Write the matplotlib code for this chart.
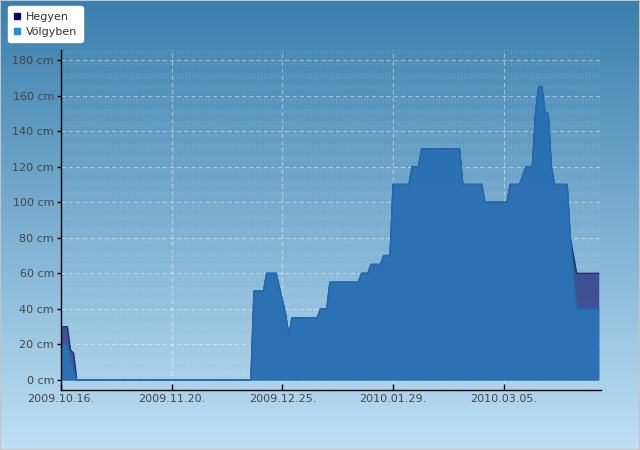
import matplotlib
matplotlib.use('Agg')
import matplotlib.pyplot as plt
import matplotlib.dates as mdates
from matplotlib.colors import LinearSegmentedColormap
from matplotlib.lines import Line2D
from matplotlib.patches import Rectangle
import numpy as np
import pandas as pd

plt.rcParams['lines.scale_dashes'] = False
plt.rcParams['font.family'] = 'DejaVu Sans'

# hóvastagság (cm), töréspontok
dates_volgy = ['2009-10-16', '2009-10-18', '2009-10-19', '2009-10-20', '2009-10-21',
               '2009-12-15', '2009-12-16', '2009-12-19', '2009-12-20', '2009-12-23',
               '2009-12-26', '2009-12-27', '2009-12-28', '2010-01-05', '2010-01-06',
               '2010-01-08', '2010-01-09', '2010-01-18', '2010-01-19', '2010-01-21',
               '2010-01-22', '2010-01-25', '2010-01-26', '2010-01-28', '2010-01-29',
               '2010-02-03', '2010-02-04', '2010-02-06', '2010-02-07', '2010-02-19',
               '2010-02-20', '2010-02-26', '2010-02-27', '2010-03-06', '2010-03-07',
               '2010-03-10', '2010-03-12', '2010-03-14', '2010-03-15', '2010-03-16',
               '2010-03-17', '2010-03-18', '2010-03-19', '2010-03-20', '2010-03-21',
               '2010-03-25', '2010-03-26', '2010-03-28', '2010-04-04']
volgyben = [20, 20, 12, 5, 0,
            0, 50, 50, 60, 60,
            37, 25, 35, 35, 40,
            40, 55, 55, 60, 60,
            65, 65, 70, 70, 110,
            110, 120, 120, 130, 130,
            110, 110, 100, 100, 110,
            110, 120, 120, 150, 165,
            165, 150, 150, 120, 110,
            110, 80, 40, 40]

dates_hegy = list(dates_volgy)
hegyen = [30, 30, 17, 15, 0] + volgyben[5:-2] + [60, 60]

yticks = [0, 20, 40, 60, 80, 100, 120, 140, 160, 180]
xticks = ['2009-10-16', '2009-11-20', '2009-12-25', '2010-01-29', '2010-03-05']

fig = plt.figure(figsize=(6.4, 4.5), dpi=100)

# háttér színátmenet
bg = fig.add_axes([0, 0, 1, 1], zorder=-5)
cmap = LinearSegmentedColormap.from_list('bg', ['#bee0f5', '#3a7fad'])
bg.imshow(np.linspace(0, 1, 256).reshape(-1, 1), cmap=cmap, aspect='auto',
          extent=[0, 1, 0, 1], origin='lower')
bg.axis('off')

ax = fig.add_axes([61/640, 1 - 390/450, 540/640, 340/450])
ax.patch.set_alpha(0)

xv = pd.to_datetime(dates_volgy)
xh = pd.to_datetime(dates_hegy)

# minta csíkok a háttérben
for yy in np.arange(184.2, -6, -20/3):
    ax.axhline(yy, color='white', alpha=0.11, lw=4, dashes=(0.75, 1.5), zorder=0)

ax.fill_between(xh, hegyen, 0, color='#2b3580', alpha=0.8, lw=0, zorder=2)
ax.plot(xh, hegyen, color='#263070', lw=1, zorder=2)
ax.fill_between(xv, volgyben, 0, color='#2a74b6', alpha=0.93, lw=0, zorder=3)
ax.plot(xv, volgyben, color='#1f6cb3', lw=1, zorder=3)

start = mdates.date2num(pd.Timestamp('2009-10-16'))
ax.set_xlim(start, start + 170.7)
ax.set_ylim(-5.6, 185.6)

ax.set_yticks(yticks)
ax.set_yticklabels(['%d cm' % v for v in yticks])
ax.set_xticks(pd.to_datetime(xticks))
ax.xaxis.set_major_formatter(mdates.DateFormatter('%Y.%m.%d.'))

ax.grid(True, color='white', alpha=0.45, lw=0.8, dashes=(3, 2.2), zorder=1)
ax.set_axisbelow(True)

for s in ['top', 'right']:
    ax.spines[s].set_visible(False)
for s in ['left', 'bottom']:
    ax.spines[s].set_color('black')
    ax.spines[s].set_linewidth(1)
    ax.spines[s].set_zorder(5)

ax.tick_params(axis='y', direction='out', length=3, width=1, pad=2,
               labelsize=8, labelcolor='#444444')
ax.tick_params(axis='x', direction='in', length=4, width=1, pad=3,
               labelsize=8, labelcolor='#444444')

handles = [Line2D([], [], marker='s', ls='', color='#0a0a60', markersize=5),
           Line2D([], [], marker='s', ls='', color='#1e90d8', markersize=5)]
leg = fig.legend(handles, ['Hegyen', 'Völgyben'], loc='upper left',
                 bbox_to_anchor=(8/640, 1 - 6/450), fontsize=8, frameon=True,
                 fancybox=True, framealpha=1, edgecolor='white',
                 handlelength=0.7, handletextpad=0.4, labelspacing=0.45,
                 borderpad=0.5, borderaxespad=0)
for t in leg.get_texts():
    t.set_color('#333333')

fig.patches.append(Rectangle((0, 0), 1, 1, transform=fig.transFigure,
                             fill=False, edgecolor='#c4c4c4', lw=1.5))

fig.savefig('out.png', dpi=100)
